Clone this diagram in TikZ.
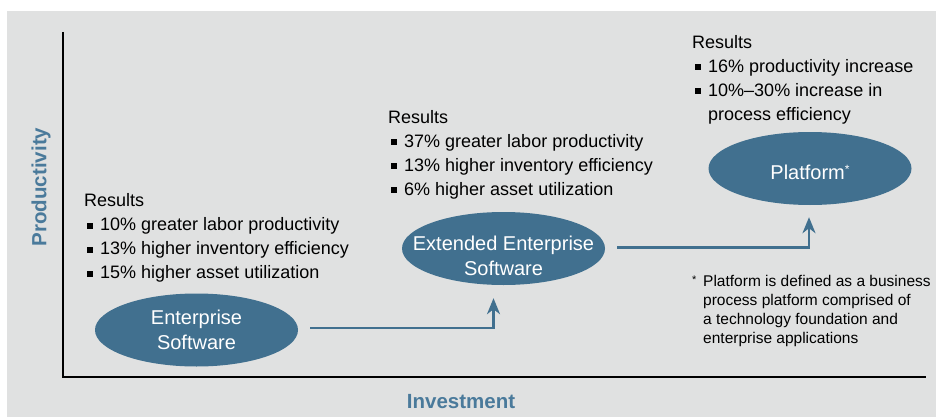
\documentclass[tikz,border=0pt]{standalone}
\usepackage{fontspec}
\setmainfont{Liberation Sans}
\usepackage{tikz}
\usetikzlibrary{shapes.geometric,arrows.meta}

\definecolor{stageblue}{HTML}{41708F}
\definecolor{axisblue}{HTML}{4A7A9B}
\definecolor{panelgray}{HTML}{E0E1E1}

% square bullet and the matching indent for wrapped lines
\newcommand{\sqb}{\hspace*{2.5pt}\makebox[13.5pt][l]{\raisebox{2pt}{\rule{6pt}{6pt}}}}
\newcommand{\sqbindent}{\hspace*{16pt}}

\tikzset{
  stage/.style={ellipse,fill=stageblue,minimum width=203pt,
                minimum height=73pt,inner sep=0pt},
  stagetext/.style={text=white,align=center,inner sep=0pt,
                    font=\fontsize{20}{25}\selectfont},
  results/.style={anchor=north west,inner sep=0pt,align=left,
                  font=\fontsize{18}{24}\selectfont},
  flow/.style={draw=stageblue,line width=2.5pt,
               -{Stealth[length=16pt,width=13pt,inset=5pt]}},
  axislabel/.style={text=axisblue,font=\fontsize{20.5}{24}\selectfont\bfseries},
}

\begin{document}
\begin{tikzpicture}[x=1pt,y=-1pt]
    \useasboundingbox (0,0) rectangle (936,417);
    \fill[panelgray] (7,11) rectangle (936,417);

    % axes
    \coordinate (ytop) at (63,32);
    \coordinate (orig) at (63,377);
    \coordinate (xend) at (926,377);
    \draw[line width=2.5pt] (ytop) -- (orig) -- (xend);
    \node[axislabel,rotate=90] (prod) at (41,187) {Productivity};
    \node[axislabel] (inv) at (461,402) {Investment};

    % the three stages
    \node[stage,label={[stagetext]center:{Enterprise\\Software}}] (ent) at (196.5,330) {};
    \node[stage,label={[stagetext,yshift=-7pt]center:{Extended Enterprise\\Software}}]
        (ext) at (503.5,248.5) {};
    \node[stage,label={[stagetext,yshift=-3.5pt]center:{Platform\raisebox{6pt}{\fontsize{12}{12}\selectfont*}}}]
        (plat) at (810,168.5) {};

    % steps between stages
    \draw[flow] ([xshift=12pt,yshift=2pt]ent.east) -| ([xshift=-10pt,yshift=-13pt]ext.south);
    \draw[flow] ([xshift=12pt,yshift=1pt]ext.east) -| ([xshift=-1pt,yshift=-12pt]plat.south);

    % results for each stage
    \node[results] (res1) at (84,193.4) {Results\\
        \sqb10\% greater labor productivity\\
        \sqb13\% higher inventory efficiency\\
        \sqb15\% higher asset utilization};
    \node[results] (res2) at (388,110) {Results\\
        \sqb37\% greater labor productivity\\
        \sqb13\% higher inventory efficiency\\
        \sqb6\% higher asset utilization};
    \node[results] (res3) at (692,35) {Results\\
        \sqb16\% productivity increase\\
        \sqb10\%–30\% increase in\\
        \sqbindent process efficiency};

    % footnote
    \node[results,font=\fontsize{15.5}{19}\selectfont] (note) at (692,275)
        {\makebox[11pt][l]{\raisebox{3pt}{\fontsize{11}{11}\selectfont *}}Platform is defined as a business\\
         \hspace*{11pt}process platform comprised of\\
         \hspace*{11pt}a technology foundation and\\
         \hspace*{11pt}enterprise applications};
\end{tikzpicture}
\end{document}
